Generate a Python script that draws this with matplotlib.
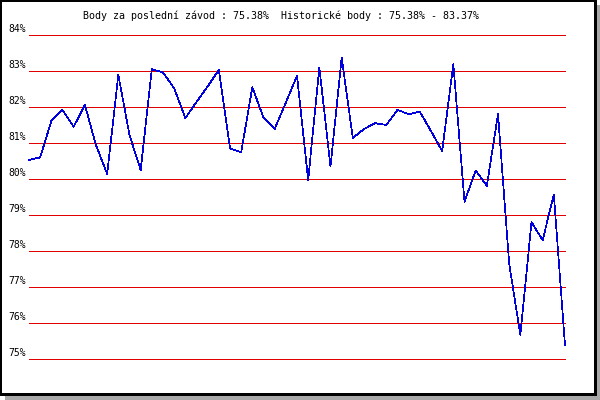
import numpy as np
import matplotlib.pyplot as plt
from matplotlib.patches import Rectangle

# points per race, in percent
scores = [80.53, 80.60, 81.61, 81.92, 81.45, 82.06, 80.94, 80.14, 82.89, 81.22,
          80.25, 83.05, 82.96, 82.52, 81.69, 82.14, 82.57, 83.03, 80.85, 80.74,
          82.55, 81.70, 81.39, 82.12, 82.87, 79.97, 83.10, 80.35, 83.37, 81.14,
          81.39, 81.55, 81.50, 81.92, 81.80, 81.87, 81.33, 80.78, 83.19, 79.37,
          80.24, 79.81, 81.80, 77.65, 75.67, 78.80, 78.30, 79.57, 75.38]
levels = [75, 76, 77, 78, 79, 80, 81, 82, 83, 84]
level_labels = [f"{v}%" for v in levels]
title = "Body za poslední závod : 75.38%  Historické body : 75.38% - 83.37%"

W, H = 600, 400
fig = plt.figure(figsize=(W / 100, H / 100), dpi=100)

# frame with grey drop shadow (pixel boxes, y measured from top)
def box(x0, y0, x1, y1, color):
    fig.patches.append(Rectangle((x0 / W, 1 - y1 / H), (x1 - x0) / W, (y1 - y0) / H,
                                 transform=fig.transFigure, facecolor=color,
                                 linewidth=0, zorder=-5))

box(5, 5, 600, 400, '#a8a8a8')
box(0, 0, 597, 396, 'black')
box(2, 2, 594, 393, 'white')

ax = fig.add_axes([29 / W, 1 - 359 / H, (565 - 29) / W, (359 - 35) / H])
ax.set_facecolor('none')
ax.set_xlim(0, len(scores) - 1)
ax.set_ylim(75, 84)
for s in ax.spines.values():
    s.set_visible(False)
ax.set_xticks([])
ax.set_yticks([])

for v, lab in zip(levels, level_labels):
    ax.axhline(v, color='#e00000', lw=0.6, antialiased=False, clip_on=False, zorder=1)
    ax.annotate(lab, xy=(0, v), xycoords=('axes fraction', 'data'),
                xytext=(-3, 6), textcoords='offset pixels',
                ha='right', va='center', fontsize=7, family='DejaVu Sans Mono')

ax.plot(np.arange(len(scores)), scores, color='#0000dd', lw=0.5,
        antialiased=False, clip_on=False, zorder=2)

fig.text(83 / W, 1 - 15.5 / H, title, ha='left', va='center',
         fontsize=7.2, family='DejaVu Sans Mono')

fig.savefig('out.png', dpi=100)
